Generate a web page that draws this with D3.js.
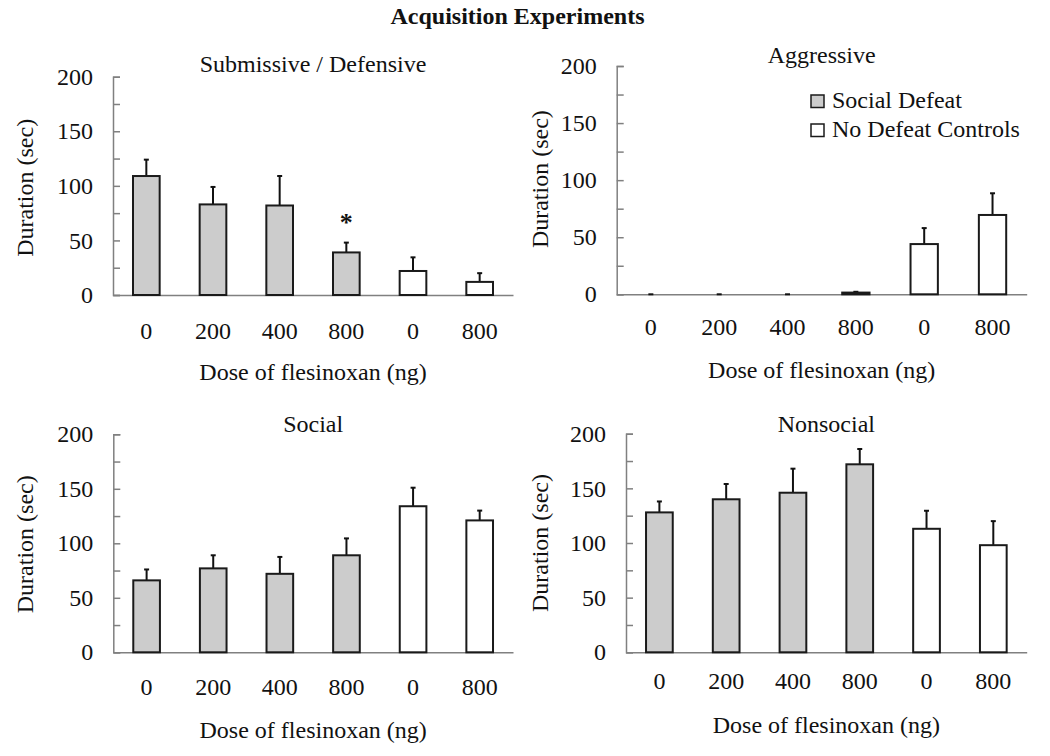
<!DOCTYPE html>
<html>
<head>
<meta charset="utf-8">
<script src="https://cdn.jsdelivr.net/npm/d3@7"></script>
<style>
  html, body { margin: 0; padding: 0; background: #fff; }
  svg { display: block; }
</style>
</head>
<body>
<svg id="chart" width="1050" height="756"></svg>
<script>
// ---------------- DATA ----------------
const doseLabels = ["0", "200", "400", "800", "0", "800"];
const groupTypes = ["defeat", "defeat", "defeat", "defeat", "control", "control"];
const yTickValues = [0, 25, 50, 75, 100, 125, 150, 175, 200];

const submissiveMeans = [109, 83, 82, 39, 22, 12];
const submissiveSEM   = [15, 16, 27, 9, 12.5, 8];

const aggressiveMeans = [0, 0, 0, 1.5, 44, 69.5];
const aggressiveSEM   = [0, 0, 0, 0.7, 14, 19];

const socialMeans = [66, 77, 72, 89, 134, 121];
const socialSEM   = [10, 12, 15.5, 15.5, 17, 9];

const nonsocialMeans = [128, 140, 146, 172, 113, 98];
const nonsocialSEM   = [10, 14, 22, 14, 16.5, 22];

const panelTitles = ["Submissive / Defensive", "Aggressive", "Social", "Nonsocial"];
const significance = [[3], [], [], []]; // indices with asterisk
const legendLabels = ["Social Defeat", "No Defeat Controls"];

// ---------------- LAYOUT ----------------
const FONT = 24;
const FAMILY = "'Liberation Serif', 'Times New Roman', Times, 'Nimbus Roman', 'DejaVu Serif', serif";
const FILL = { defeat: "#cccccc", control: "#ffffff" };
const layouts = [
  { x0: 113, x1: 513, yZero: 295, yTop: 76.7, titleY: 71.5, tickPad: 27, xTitleY: 380, yTitleX: 25, yTitleDY: 2 },
  { x0: 616.7, x1: 1026.7, yZero: 294.3, yTop: 66, titleY: 63.3, tickPad: 23.5, xTitleY: 378.3, yTitleX: 540, yTitleDY: -1 },
  { x0: 113.3, x1: 513, yZero: 652.3, yTop: 434.3, titleY: 431.7, tickPad: 25.5, xTitleY: 738, yTitleX: 25, yTitleDY: 1 },
  { x0: 626, x1: 1026.7, yZero: 652.3, yTop: 433.7, titleY: 431.7, tickPad: 19.5, xTitleY: 733, yTitleX: 540, yTitleDY: 0 }
];
const panelData = [
  [submissiveMeans, submissiveSEM],
  [aggressiveMeans, aggressiveSEM],
  [socialMeans, socialSEM],
  [nonsocialMeans, nonsocialSEM]
];

const svg = d3.select("#chart");

function txt(sel) {
  return sel.style("font-family", FAMILY).style("font-size", FONT + "px").attr("fill", "#111");
}

svg.append("text")
  .attr("x", 517.5).attr("y", 24)
  .attr("text-anchor", "middle")
  .call(txt).style("font-weight", "bold")
  .text("Acquisition Experiments");

panelData.forEach(([means, sems], pi) => {
  const L = layouts[pi];
  const g = svg.append("g");
  const idx = d3.range(means.length);

  const x = d3.scaleBand().domain(idx).range([L.x0, L.x1]).paddingInner(0.6).paddingOuter(0.3);
  const y = d3.scaleLinear().domain([0, 200]).range([L.yZero, L.yTop]);

  // Y axis
  const yAxis = d3.axisLeft(y).tickValues(yTickValues).tickSize(-7).tickPadding(20)
    .tickFormat(d => d % 50 === 0 ? d : "");
  const ya = g.append("g").attr("transform", `translate(${L.x0},0)`).call(yAxis);
  ya.select(".domain").attr("stroke", "#808080").attr("stroke-width", 1.5);
  ya.selectAll(".tick line").attr("stroke", "#808080").attr("stroke-width", 1.5);
  ya.selectAll("text").call(txt);

  // X axis
  const xAxis = d3.axisBottom(x).tickSize(0).tickPadding(L.tickPad).tickFormat(i => doseLabels[i]);
  const xa = g.append("g").attr("transform", `translate(0,${L.yZero})`).call(xAxis);
  xa.select(".domain").attr("stroke", "#808080").attr("stroke-width", 1.5);
  xa.selectAll("text").call(txt);

  // Error bars
  const eb = g.append("g");
  idx.forEach(i => {
    const cx = x(i) + x.bandwidth() / 2;
    const top = y(means[i] + sems[i]);
    eb.append("line").attr("x1", cx).attr("x2", cx).attr("y1", y(means[i])).attr("y2", top)
      .attr("stroke", "#111").attr("stroke-width", 2);
    eb.append("line").attr("x1", cx - 2.5).attr("x2", cx + 2.5).attr("y1", top).attr("y2", top)
      .attr("stroke", "#111").attr("stroke-width", 2);
  });

  // Bars
  g.append("g").selectAll("rect").data(idx).join("rect")
    .attr("x", i => x(i))
    .attr("width", x.bandwidth())
    .attr("y", i => y(means[i]))
    .attr("height", i => y(0) - y(means[i]))
    .attr("fill", i => FILL[groupTypes[i]])
    .attr("stroke", "#1a1a1a")
    .attr("stroke-width", 2);

  // Significance
  significance[pi].forEach(i => {
    g.append("text")
      .attr("x", x(i) + x.bandwidth() / 2)
      .attr("y", y(means[i] + sems[i]) - 12)
      .attr("text-anchor", "middle")
      .call(txt).style("font-size", "26px").style("font-weight", "bold")
      .text("*");
  });

  // Titles
  g.append("text").attr("x", (L.x0 + L.x1) / 2).attr("y", L.titleY)
    .attr("text-anchor", "middle").call(txt).text(panelTitles[pi]);
  g.append("text").attr("x", (L.x0 + L.x1) / 2).attr("y", L.xTitleY)
    .attr("text-anchor", "middle").call(txt).text("Dose of flesinoxan (ng)");
  g.append("text")
    .attr("transform", `translate(${L.yTitleX},${(L.yZero + L.yTop) / 2 + L.yTitleDY}) rotate(-90)`)
    .attr("text-anchor", "middle").attr("dy", "0.35em").call(txt)
    .text("Duration (sec)");

  // Legend in Aggressive panel
  if (pi === 1) {
    const lg = g.append("g");
    legendLabels.forEach((lab, k) => {
      const ly = 95 + k * 29;
      lg.append("rect").attr("x", 811).attr("y", ly).attr("width", 13).attr("height", 12.5)
        .attr("fill", k === 0 ? FILL.defeat : FILL.control).attr("stroke", "#1a1a1a").attr("stroke-width", 1.5);
      lg.append("text").attr("x", 832).attr("y", ly + 12.5).call(txt).text(lab);
    });
  }
});
</script>
</body>
</html>
